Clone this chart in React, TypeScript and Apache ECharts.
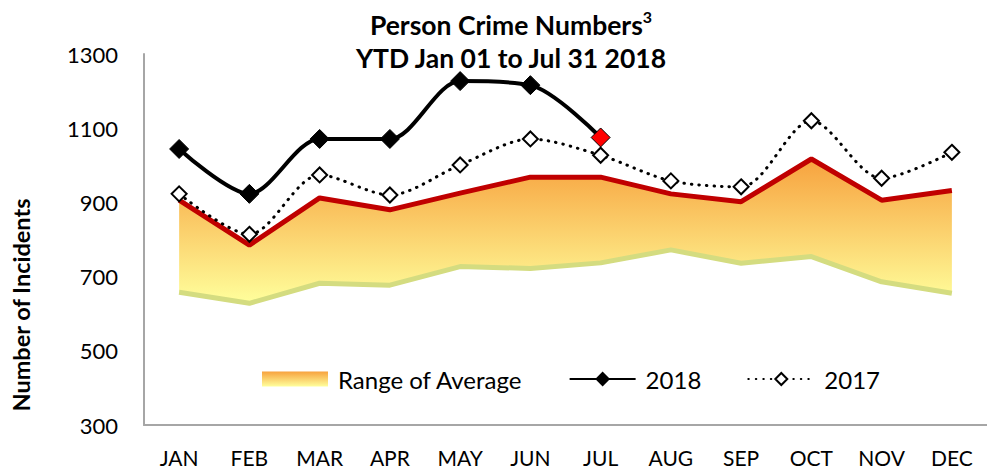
import React, { useEffect, useRef } from "react";
import * as echarts from "echarts";

const months = ["JAN", "FEB", "MAR", "APR", "MAY", "JUN", "JUL", "AUG", "SEP", "OCT", "NOV", "DEC"];
const rangeLow = [658, 628, 682, 677, 727, 722, 737, 772, 736, 754, 686, 655];
const rangeHigh = [906, 785, 912, 880, 925, 968, 968, 923, 902, 1017, 906, 932];
const y2018 = [1044, 923, 1071, 1071, 1227, 1216, 1075];
const y2017 = [923, 814, 974, 920, 1001, 1071, 1027, 958, 942, 1120, 965, 1035];
const yTicks = [300, 500, 700, 900, 1100, 1300];

const FONT = "Lato, 'Open Sans', sans-serif";

export default function App() {
  const ref = useRef<HTMLDivElement>(null);
  useEffect(() => {
    document.body.style.margin = "0";
    if (!ref.current) return;
    const chart = echarts.init(ref.current, null, { renderer: "svg" });
    const grad = new echarts.graphic.LinearGradient(0, 0, 0, 1, [
      { offset: 0, color: "#F7A23E" },
      { offset: 1, color: "#FFFF9C" },
    ]);
    const diff = rangeHigh.map((v, i) => v - rangeLow[i]);
    const d2018 = y2018.map((v, i) =>
      i === y2018.length - 1
        ? { value: v, itemStyle: { color: "#FF0000", borderColor: "#000", borderWidth: 1 } }
        : v
    );
    chart.setOption({
      animation: false,
      textStyle: { fontFamily: FONT },
      title: {
        text: "{a|Person Crime Numbers}{s|3}\n{a|YTD Jan 01 to Jul 31 2018}",
        left: 506,
        textAlign: "center",
        top: 3,
        textStyle: {
          rich: {
            a: { fontFamily: FONT, fontWeight: "bold", fontSize: 26.5, color: "#000", lineHeight: 33 },
            s: { fontFamily: FONT, fontWeight: "bold", fontSize: 16, color: "#000", verticalAlign: "top", lineHeight: 22 },
          },
        },
      },
      grid: { left: 144, right: -12, top: 54, bottom: 45 },
      legend: {
        left: 257,
        top: 362,
        itemWidth: 66,
        itemHeight: 15,
        itemGap: 46,
        textStyle: { fontFamily: FONT, fontSize: 24, color: "#000", padding: [0, 0, 0, 5] },
        data: [
          { name: "Range of Average", icon: "rect", itemStyle: { color: grad } },
          { name: "2018" },
          { name: "2017" },
        ],
      },
      xAxis: {
        type: "category",
        data: months,
        boundaryGap: true,
        axisLine: { show: true, lineStyle: { color: "#A6A6A6", width: 2 } },
        axisTick: { show: false },
        axisLabel: { fontFamily: FONT, fontSize: 21, color: "#000", margin: 23, lineHeight: 18 },
      },
      yAxis: {
        type: "value",
        min: yTicks[0],
        max: yTicks[yTicks.length - 1],
        interval: 200,
        splitLine: { show: false },
        axisLine: { show: true, lineStyle: { color: "#A6A6A6", width: 2 } },
        axisTick: { show: false },
        axisLabel: { fontFamily: FONT, fontSize: 22, color: "#000", margin: 26, formatter: (v: number) => String(v) },
      },
      graphic: [
        {
          type: "text",
          x: 21,
          y: 305,
          rotation: Math.PI / 2,
          style: {
            text: "Number of Incidents",
            fontFamily: FONT,
            fontWeight: "bold",
            fontSize: 23.5,
            fill: "#000",
            align: "center",
            verticalAlign: "middle",
          },
        },
      ],
      series: [
        {
          name: "base",
          type: "line",
          stack: "r",
          data: rangeLow,
          symbol: "none",
          lineStyle: { opacity: 0 },
          silent: true,
        },
        {
          name: "Range of Average",
          type: "line",
          stack: "r",
          data: diff,
          symbol: "none",
          lineStyle: { opacity: 0 },
          areaStyle: { color: grad, opacity: 1 },
          itemStyle: { color: grad },
        },
        {
          name: "low",
          type: "line",
          data: rangeLow,
          symbol: "none",
          lineStyle: { color: "#D4DC80", width: 5 },
        },
        {
          name: "high",
          type: "line",
          data: rangeHigh,
          symbol: "none",
          lineStyle: { color: "#C00000", width: 5 },
        },
        {
          name: "2017",
          type: "line",
          data: y2017,
          smooth: 0.3,
          symbol: "diamond",
          symbolSize: 15,
          lineStyle: { color: "#000", width: 3, type: [0.5, 7], cap: "round" },
          itemStyle: { color: "#fff", borderColor: "#000", borderWidth: 2 },
        },
        {
          name: "2018",
          type: "line",
          data: d2018,
          smooth: 0.3,
          symbol: "diamond",
          symbolSize: 19,
          lineStyle: { color: "#000", width: 4 },
          itemStyle: { color: "#000", borderColor: "#000", borderWidth: 1 },
        },
      ],
    });
    return () => chart.dispose();
  }, []);
  return <div ref={ref} style={{ width: 987, height: 470 }} />;
}
